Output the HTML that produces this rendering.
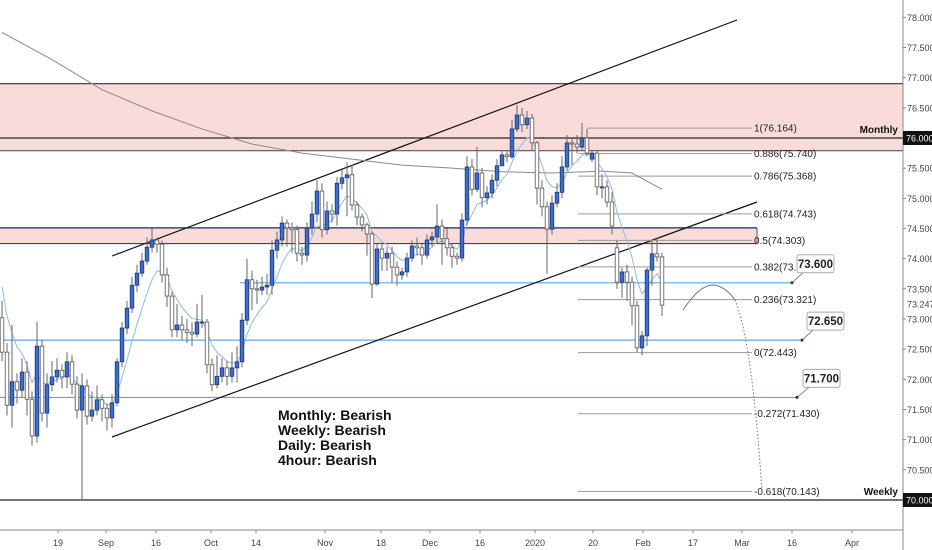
<!DOCTYPE html>
<html><head><meta charset="utf-8"><style>
html,body{margin:0;padding:0;background:#fff;}
svg{display:block;font-family:"Liberation Sans",sans-serif;}
</style></head><body>
<svg id="chart" width="932" height="550" viewBox="0 0 932 550" xmlns="http://www.w3.org/2000/svg">
<rect x="0" y="0" width="932" height="550" fill="#fff"/>
<g id="zones"></g>
<g id="lines"></g>
<g id="ma"></g>
<g id="candles"></g>
<g id="overlay"></g>
<g id="axes"></g>
<g font-size="14" font-weight="bold" fill="#111">
<text x="278" y="420">Monthly: Bearish</text>
<text x="278" y="435">Weekly: Bearish</text>
<text x="278" y="450">Daily: Bearish</text>
<text x="278" y="465">4hour: Bearish</text>
</g>
</svg>
<script>
const openP=[73.02,72.45,71.57,71.96,71.82,72.12,71.67,71.06,72.55,71.44,71.91,72.04,72.15,72.04,72.29,71.92,71.49,71.89,71.39,71.49,71.66,71.52,71.36,71.61,72.29,72.85,73.18,73.56,73.76,73.96,74.19,74.31,74.24,73.73,73.38,72.82,72.90,72.82,72.78,72.75,72.95,72.95,72.24,71.91,72.05,72.19,72.05,72.19,72.29,72.98,73.65,73.50,73.48,73.53,73.56,74.14,74.31,74.59,74.51,74.48,74.09,74.06,74.51,74.74,75.12,74.48,74.79,74.74,75.25,75.34,75.39,74.89,74.69,74.56,74.41,73.58,74.16,74.01,74.09,73.86,73.73,73.78,74.01,74.21,74.18,74.06,74.31,74.36,74.54,74.33,74.18,74.04,74.01,74.64,75.52,75.15,75.42,75.01,75.09,75.30,75.54,75.72,75.69,76.15,76.38,76.22,76.33,75.92,75.17,74.86,74.49,74.92,75.10,75.52,75.92,75.90,75.85,76.00,75.65,75.75,75.19,75.19,74.94,74.18,73.61,73.78,73.61,73.22,72.52,72.72,73.81,74.08,74.03];
const closeP=[72.45,71.57,71.96,71.82,72.12,71.67,71.06,72.55,71.44,71.91,72.04,72.15,72.04,72.29,71.92,71.49,71.89,71.39,71.49,71.66,71.52,71.36,71.61,72.29,72.85,73.18,73.56,73.76,73.96,74.19,74.31,74.24,73.73,73.38,72.82,72.90,72.82,72.78,72.75,72.95,72.95,72.24,71.91,72.05,72.19,72.05,72.19,72.29,72.98,73.65,73.50,73.48,73.53,73.56,74.14,74.31,74.59,74.51,74.48,74.09,74.06,74.51,74.74,75.12,74.48,74.79,74.74,75.25,75.34,75.39,74.89,74.69,74.56,74.41,73.58,74.16,74.01,74.09,73.86,73.73,73.78,74.01,74.21,74.18,74.06,74.31,74.36,74.54,74.33,74.18,74.04,74.01,74.64,75.52,75.15,75.42,75.01,75.09,75.30,75.54,75.72,75.69,76.15,76.38,76.22,76.33,75.92,75.17,74.86,74.49,74.92,75.10,75.52,75.92,75.90,75.85,76.00,75.75,75.75,75.19,75.19,74.94,74.54,73.61,73.78,73.61,73.22,72.52,72.72,73.81,74.08,74.03,73.23];
const highP=[73.30,72.60,72.90,72.10,72.35,72.30,71.80,72.95,72.65,72.10,72.30,72.35,72.25,72.45,72.40,72.05,72.10,72.00,71.80,71.90,71.75,71.60,71.75,72.35,72.95,73.30,73.70,73.90,74.10,74.35,74.50,74.35,74.30,73.85,73.45,73.25,73.05,73.00,72.95,73.25,73.40,73.00,72.35,72.40,72.35,72.30,72.45,72.55,73.10,74.00,73.80,73.65,73.70,73.75,74.30,74.45,74.70,74.65,74.60,74.55,74.20,74.60,74.95,75.30,75.25,74.95,74.90,75.35,75.50,75.60,75.55,74.95,74.75,74.60,74.45,74.25,74.25,74.20,74.20,73.95,73.85,74.10,74.30,74.35,74.25,74.40,74.45,74.90,74.65,74.50,74.25,74.10,74.75,75.70,75.65,75.85,75.50,75.20,75.40,75.65,75.80,75.80,76.30,76.55,76.50,76.45,76.40,75.95,75.30,74.95,75.05,75.25,75.70,76.05,76.00,76.05,76.25,76.15,75.80,75.80,75.40,75.30,75.10,74.30,73.85,73.90,73.70,73.30,72.80,73.85,74.30,74.35,74.10];
const lowP=[72.30,71.40,71.20,71.60,71.70,71.40,70.90,70.95,71.30,71.20,71.80,71.95,71.85,71.85,71.75,71.35,70.00,71.25,71.30,71.40,71.30,71.15,71.20,71.55,72.20,72.75,73.10,73.45,73.70,73.90,74.10,74.10,73.60,73.20,72.70,72.70,72.65,72.60,72.55,72.70,72.85,72.10,71.80,71.85,71.95,71.90,71.95,71.95,72.20,72.90,73.15,73.25,73.40,73.40,73.40,74.00,74.20,74.20,74.10,73.95,73.90,73.95,74.40,74.60,74.35,74.40,74.60,74.55,75.15,74.70,74.80,74.55,74.45,74.05,73.35,73.55,73.80,73.80,73.60,73.55,73.65,73.70,73.95,74.05,73.90,74.00,74.20,74.25,73.90,74.05,73.85,73.90,73.95,74.55,75.05,75.10,74.85,74.90,75.00,75.20,75.55,75.60,75.65,76.10,76.10,76.15,75.80,74.90,74.70,73.75,74.40,74.85,75.00,75.45,75.55,75.75,75.80,75.70,75.60,75.05,75.00,74.85,74.40,73.50,73.35,73.30,72.90,72.45,72.40,72.55,73.55,73.95,73.05];
const slowMA=[77.75,77.30,76.80,76.45,76.15,75.90,75.75,75.65,75.55,75.50,75.44,75.42,75.45,75.42,75.15];
const slowMAIdx=[0,10,20,30,40,50,60,70,80,90,100,110,120,126,132];
const fibLevels=["1","0.886","0.786","0.618","0.5","0.382","0.236","0","-0.272","-0.618"];
const fibPrices=[76.164,75.740,75.368,74.743,74.303,73.864,73.321,72.443,71.430,70.143];
const priceTicks=[78,77.5,77,76.5,76,75.5,75,74.5,74,73.5,73,72.5,72,71.5,71,70.5,70];
const timeLabels=["19","Sep","16","Oct","14","Nov","18","Dec","16","2020","20","Feb","17","Mar","16","Apr"];
const timeIdx=[11.2,20.8,30.8,41.8,50.8,64.6,75.8,85.6,95.6,106.6,118.2,128.2,138.2,148,158,170];
const levelPrices=[73.600,72.650,71.700];

const NS="http://www.w3.org/2000/svg";
const yS=p=>138+(76-p)*60.33;
const xS=i=>2+i*5;
function mk(tag,attrs,parent,txt){const e=document.createElementNS(NS,tag);for(const k in attrs)e.setAttribute(k,attrs[k]);if(txt!==undefined)e.textContent=txt;parent.appendChild(e);return e;}
const G=id=>document.getElementById(id);

// zones
let z=mk('rect',{x:0,y:yS(76.9),width:903,height:yS(75.79)-yS(76.9),fill:'#f8d3cf',opacity:0.8},G('zones'));


z=mk('rect',{x:0,y:yS(74.51),width:757,height:yS(74.25)-yS(74.51),fill:'#f8d3cf',opacity:0.8},G('zones'));


[[76.9,0,903,'#333'],[76.0,0,903,'#222'],[75.79,0,903,'#555'],[74.51,0,757,'#1c2a5a'],[74.25,0,757,'#444'],[70.0,0,903,'#222']].forEach(a=>{
 const l=mk('line',{x1:a[1],x2:a[2],y1:yS(a[0]),y2:yS(a[0]),stroke:a[3],'stroke-width':1.2},G('lines'));
 
 
});
mk('line',{x1:757,x2:757,y1:yS(74.51),y2:yS(74.25),stroke:'#555'},G('lines'));
// blue levels
const lvStart=[240,0,0], lvEnd=[792,802,797], boxX=[797,807,803];
levelPrices.forEach((p,k)=>{
 const y=yS(p);
 const l=mk('line',{x1:lvStart[k],x2:lvEnd[k],y1:y,y2:y,stroke:'#5aa8e8','stroke-width':1.2},G('lines'));
 
 
});
// channel
let c=mk('line',{x1:112,y1:256,x2:737,y2:20,stroke:'#111','stroke-width':1.2},G('lines'));


c=mk('line',{x1:112,y1:437,x2:757,y2:202,stroke:'#111','stroke-width':1.2},G('lines'));


// fib
fibLevels.forEach((lv,k)=>{
 const y=yS(fibPrices[k]);
 const l=mk('line',{x1:k===0?587:578,x2:752,y1:y,y2:y,stroke:'#9a9a9a','stroke-width':1},G('lines'));
 
 
 const t=mk('text',{x:754,y:y+3.5,'font-size':10,fill:'#222'},G('lines'),lv+'('+fibPrices[k].toFixed(3)+')');
 
 
});
// slow MA
let d='';slowMA.forEach((p,k)=>{d+=(k?'L':'M')+xS(slowMAIdx[k])+','+yS(p);});
let m=mk('path',{d:d,fill:'none',stroke:'#8a8a8a','stroke-width':1},G('ma'));


// EMA
let e=73.9,ed='';closeP.forEach((p,i)=>{e=e+(p-e)*0.25;ed+=(i?'L':'M')+xS(i)+','+yS(e).toFixed(1);});
m=mk('path',{d:ed,fill:'none',stroke:'#8dbbe8','stroke-width':1},G('ma'));


// candles
closeP.forEach((cl,i)=>{
 const o=openP[i],x=xS(i),up=cl>=o;
 const g=mk('g',{},G('candles'));
 
 
 mk('line',{x1:x,x2:x,y1:yS(highP[i]),y2:yS(lowP[i]),stroke:'#666','stroke-width':1},g);
 const top=yS(Math.max(o,cl)),bot=yS(Math.min(o,cl));
 mk('rect',{x:x-1.8,y:top,width:3.6,height:Math.max(1,bot-top),fill:up?'#3d6fd1':'#fff',stroke:up?'#1d3570':'#555','stroke-width':0.8},g);
});
// projection
const ov=G('overlay');
let pr=mk('path',{d:'M683,310 Q700,284 714,285 Q726,287 735,300',fill:'none',stroke:'#777','stroke-width':1},ov);


pr=mk('path',{d:'M735,300 Q752,340 762,492',fill:'none',stroke:'#777','stroke-width':1,'stroke-dasharray':'1.5,2'},ov);


// callouts
levelPrices.forEach((p,k)=>{
 const y=yS(p),bx=boxX[k],by=y-28;
 const g=mk('g',{},ov);
 
 
 mk('line',{x1:lvEnd[k],y1:y,x2:bx+6,y2:by+18,stroke:'#888'},g);
 mk('circle',{cx:lvEnd[k],cy:y,r:1.5,fill:'#333'},g);
 mk('rect',{x:bx,y:by,width:37,height:18,rx:2,fill:'#fff',stroke:'#aaa'},g);
 mk('text',{x:bx+18.5,y:by+13,'text-anchor':'middle','font-size':11.5,'font-weight':'bold',fill:'#222'},g,p.toFixed(3));
});
let t=mk('text',{x:898,y:133,'text-anchor':'end','font-size':10,'font-weight':'bold',fill:'#111'},ov,'Monthly');


t=mk('text',{x:898,y:495,'text-anchor':'end','font-size':10,'font-weight':'bold',fill:'#111'},ov,'Weekly');


// axes
const ax=G('axes');
mk('line',{x1:903,x2:903,y1:0,y2:550,stroke:'#888'},ax);
mk('line',{x1:0,x2:903,y1:530,y2:530,stroke:'#888'},ax);
priceTicks.forEach(p=>{
 const y=yS(p);
 if(p===76||p===70){
  const r=mk('rect',{x:903,y:y-7,width:29,height:14,fill:'#111'},ax);
  
  
  const tt=mk('text',{x:906,y:y+3.5,'font-size':9,fill:'#fff'},ax,p.toFixed(3));
  
  
 } else {
  mk('line',{x1:903,x2:906,y1:y,y2:y,stroke:'#888'},ax);
  const tt=mk('text',{x:907,y:y+3.5,'font-size':9,fill:'#444'},ax,p.toFixed(3));
  
  
 }
});
t=mk('text',{x:907,y:yS(73.247)+3.5,'font-size':9,fill:'#444'},ax,'73.247');


timeLabels.forEach((lb,k)=>{
 const x=xS(timeIdx[k]);
 mk('line',{x1:x,x2:x,y1:530,y2:533,stroke:'#888'},ax);
 const tt=mk('text',{x:x,y:546,'text-anchor':'middle','font-size':9,fill:'#444'},ax,lb);
 
 
});
</script>
</body></html>
